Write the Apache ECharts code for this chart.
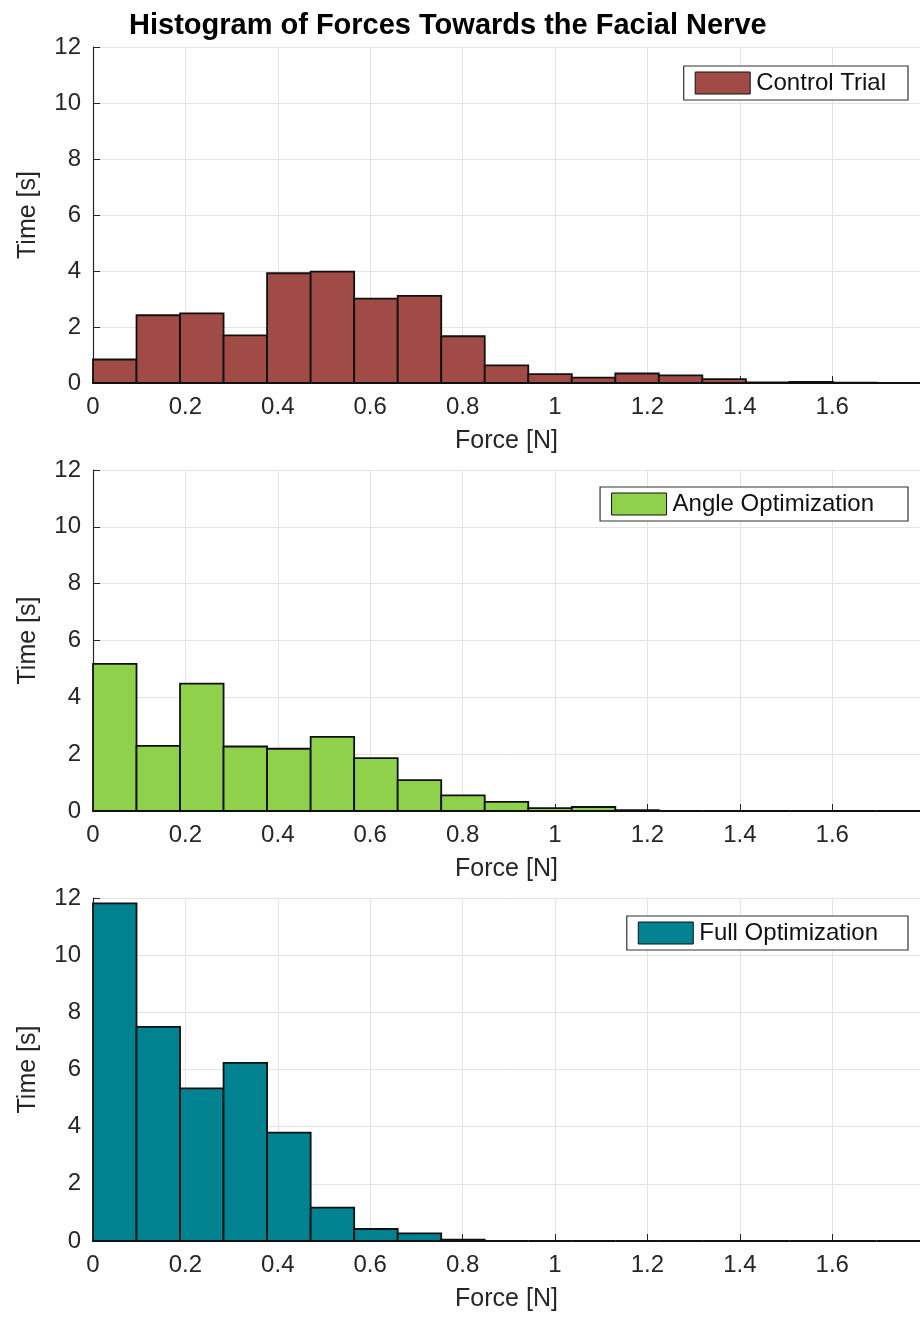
<!DOCTYPE html>
<html>
<head>
<meta charset="utf-8">
<script src="https://cdn.jsdelivr.net/npm/echarts@6/dist/echarts.min.js"></script>
<style>
html,body{margin:0;padding:0;background:#fff;}
#chart{width:920px;height:1319px;}
</style>
</head>
<body>
<div id="chart"></div>
<script>
// Bin edges of the histogram (force, N)
const binEdges = [0, 0.0942, 0.1884, 0.2826, 0.3768, 0.4711, 0.5653, 0.6595, 0.7537, 0.8479,
  0.9421, 1.0363, 1.1305, 1.2247, 1.3189, 1.4132, 1.5074, 1.6016, 1.6958, 1.79];
// Time [s] per bin
const controlTrial = [0.84, 2.42, 2.49, 1.70, 3.92, 3.98, 3.01, 3.11, 1.67, 0.63, 0.32, 0.19, 0.34, 0.27, 0.14, 0.02, 0.04, 0.01, 0];
const angleOpt = [5.18, 2.29, 4.48, 2.27, 2.19, 2.61, 1.86, 1.09, 0.55, 0.32, 0.10, 0.14, 0.03, 0, 0, 0, 0, 0, 0];
const fullOpt = [11.81, 7.49, 5.34, 6.23, 3.79, 1.17, 0.42, 0.27, 0.05, 0, 0, 0, 0, 0, 0, 0, 0, 0, 0];
const seriesNames = ['Control Trial', 'Angle Optimization', 'Full Optimization'];
const seriesColors = ['#A04B45', '#8FD14A', '#008291'];
const yTicks = [0, 2, 4, 6, 8, 10, 12];

const chart = echarts.init(document.getElementById('chart'));
const textColor = '#262626';
const fontFam = '"Liberation Sans", Arial, Helvetica, sans-serif';
const grids = [
  {left: 93, right: -2, top: 47, height: 336},
  {left: 93, right: -2, top: 470, height: 341},
  {left: 93, right: -2, top: 898, height: 343}
];
const legendTops = [66, 487, 916];
const legendRightPad = [22, 34, 30];
const allData = [controlTrial, angleOpt, fullOpt];

function makeData(vals) {
  return vals.map((v, i) => [binEdges[i], binEdges[i + 1], v]);
}

const xAxes = grids.map((g, i) => ({
  type: 'value', gridIndex: i, min: 0, max: binEdges[binEdges.length - 1], interval: 0.2,
  name: 'Force [N]', nameLocation: 'middle', nameGap: 46,
  nameTextStyle: {fontSize: 25, color: textColor, fontFamily: fontFam},
  axisLine: {show: true, onZero: false, lineStyle: {color: textColor, width: 1.2}},
  axisTick: {show: true, inside: true, length: 7, lineStyle: {color: textColor}},
  axisLabel: {fontSize: 24, color: textColor, fontFamily: fontFam, margin: 12, showMaxLabel: false,
    formatter: v => (Math.abs(v / 0.2 - Math.round(v / 0.2)) < 1e-6) ? String(+v.toFixed(1)) : ''},
  splitLine: {show: true, lineStyle: {color: '#e3e3e3', width: 1}}
}));
const yAxes = grids.map((g, i) => ({
  type: 'value', gridIndex: i, min: yTicks[0], max: yTicks[yTicks.length - 1], interval: 2,
  name: 'Time [s]', nameLocation: 'middle', nameGap: 52,
  nameTextStyle: {fontSize: 25, color: textColor, fontFamily: fontFam},
  axisLine: {show: true, lineStyle: {color: textColor, width: 1.2}},
  axisTick: {show: true, inside: true, length: 7, lineStyle: {color: textColor}},
  axisLabel: {fontSize: 24, color: textColor, fontFamily: fontFam, margin: 12},
  splitLine: {show: true, lineStyle: {color: '#e3e3e3', width: 1}}
}));

const series = allData.map((vals, i) => ({
  type: 'custom', name: seriesNames[i], xAxisIndex: i, yAxisIndex: i,
  itemStyle: {color: seriesColors[i], borderColor: '#111', borderWidth: 1.5},
  encode: {x: [0, 1], y: 2},
  data: makeData(vals),
  renderItem: function (params, api) {
    const p0 = api.coord([api.value(0), api.value(2)]);
    const p1 = api.coord([api.value(1), 0]);
    return {
      type: 'rect',
      shape: {x: p0[0], y: p0[1], width: p1[0] - p0[0], height: p1[1] - p0[1]},
      style: {fill: seriesColors[i], stroke: '#101010', lineWidth: 1.8}
    };
  }
}));

const legends = seriesNames.map((n, i) => ({
  data: [{name: n, icon: 'rect', itemStyle: {color: seriesColors[i], borderColor: '#111', borderWidth: 1}}],
  right: 12, top: legendTops[i], orient: 'horizontal',
  itemWidth: 55, itemHeight: 22, itemGap: 0,
  backgroundColor: '#fff', borderColor: '#333', borderWidth: 1.2,
  padding: [5, legendRightPad[i], 5, 11],
  textStyle: {fontSize: 24, color: '#111', fontFamily: fontFam, padding: [0, 0, 0, 1]},
  selectedMode: false
}));

chart.setOption({
  backgroundColor: '#fff',
  animation: false,
  title: {text: 'Histogram of Forces Towards the Facial Nerve', left: 124, top: 6,
    textStyle: {fontSize: 29, fontWeight: 'bold', color: '#000', fontFamily: fontFam}},
  grid: grids,
  xAxis: xAxes,
  yAxis: yAxes,
  legend: legends,
  series: series
});
</script>
</body>
</html>
